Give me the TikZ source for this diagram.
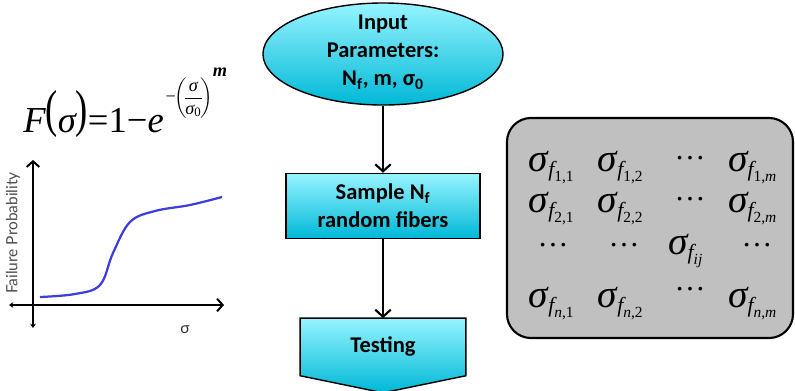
\documentclass[tikz,border=0pt]{standalone}
\usepackage{amsmath}
\usepackage{graphicx}
\usepackage{fontspec}
\setmainfont{Liberation Serif}
\newfontfamily\flowfont{Carlito}
\newfontfamily\axisfont{Lato}
\usetikzlibrary{positioning, arrows.meta, shapes.geometric, backgrounds}

\definecolor{cyantop}{RGB}{150,244,255}
\definecolor{cyanmid}{RGB}{30,216,238}
\definecolor{cyanbot}{RGB}{0,184,214}
\definecolor{boxgray}{RGB}{192,192,192}
\definecolor{curveblue}{RGB}{62,62,222}

\newcommand{\sg}{\textit{σ}}
\newcommand{\msg}{\mbox{\fontsize{28}{30}\selectfont\itshape σ}}
\newcommand{\sgf}[1]{\msg_{\textit{f}_{#1}}}
\newcommand{\mdots}{\mbox{\raisebox{5pt}[7pt][0pt]{…}}}
\newcommand{\tallp}[1]{\raisebox{4pt}{\scalebox{1}[1.42]{#1}}}

\tikzstyle{flowshade} = [draw=black, line width=1pt, top color=cyantop, middle color=cyanmid, bottom color=cyanbot]
\tikzstyle{flowtext} = [font=\flowfont\bfseries\fontsize{16}{20}\selectfont, align=center, text=black]
\tikzstyle{startnode} = [flowshade, flowtext, ellipse, minimum width=6cm, minimum height=2.55cm, inner sep=0pt]
\tikzstyle{stepbox} = [flowshade, flowtext, rectangle, minimum width=4.85cm, minimum height=1.625cm]
\tikzstyle{outbody} = [flowtext, rectangle, minimum width=4.125cm, minimum height=1.425cm]
\tikzstyle{flowarrow} = [line width=1.5pt, -{Straight Barb[length=5pt, width=11pt, line width=1.5pt]}]
\tikzstyle{axis} = [line width=1.4pt, {Stealth[length=3pt, width=4pt]}-{Straight Barb[length=4pt, width=9pt, line width=1.4pt]}]
\tikzstyle{stressbox} = [draw=black, line width=1.5pt, fill=boxgray, rounded corners=0.6cm, minimum width=7.15cm, minimum height=5.5cm]
\tikzstyle{entry} = [anchor=base, inner sep=0pt, font=\fontsize{22}{26}\selectfont]

\begin{document}
\begin{tikzpicture}[x=0.025cm, y=-0.025cm]
	\useasboundingbox (0,0) rectangle (795,390);

	% flow chart
	\node[startnode] (input) at (383,54)
		{\raisebox{-3pt}[0pt][0pt]{\begin{tabular}{@{}c@{}}Input\\Parameters:\\N\textsubscript{f}, m, σ\textsubscript{0}\end{tabular}}};
	\node[stepbox, below=1.675cm of input] (sample) {Sample N\textsubscript{f}\\random fibers};
	\node[outbody, below=1.975cm of sample] (testing) {Testing};
	\begin{scope}[on background layer]
		\draw[flowshade] (testing.north west) -- (testing.north east) -- (testing.south east)
			-- ([yshift=-0.425cm]testing.south) -- (testing.south west) -- cycle;
	\end{scope}
	\draw[flowarrow] (input) -- (sample);
	\draw[flowarrow] (sample) -- (testing);

	% weibull law
	\node[anchor=base west, inner sep=0pt, font=\fontsize{26}{30}\selectfont] (weibull) at (23,132)
		{$\mathit{F}\tallp{(}\sg\tallp{)}\textup{=}\textup{1}\textup{−}\mathit{e}\mkern1mu
		\raisebox{21pt}{\fontsize{13}{15}\selectfont$\textup{−}\mkern-5mu\left(\mkern-3mu\dfrac{\sg}{\sg_{\textup{0}}}\mkern-3mu\right)^{\raisebox{4pt}{\textbf{\textit{m}}}}$}$};

	% failure probability curve
	\coordinate (ybot) at (33,328);
	\coordinate (ytop) at (33,160);
	\coordinate (xleft) at (9,305);
	\coordinate (xright) at (224,305);
	\draw[axis] (ybot) -- (ytop);
	\draw[axis] (xleft) -- (xright);
	\draw[curveblue, line width=1.6pt] plot[smooth, tension=0.6] coordinates
		{(40,297) (75,294) (100,285) (113,253) (130,222) (155,211) (190,205) (222,197)};
	\node[rotate=90, font=\axisfont\fontsize{11}{13}\selectfont, text=black!70] (yname) at (13,233) {Failure Probability};
	\node[font=\axisfont\fontsize{11}{13}\selectfont, text=black!80] (xname) at (185,330) {σ};

	% stress samples
	\node[stressbox] (stresses) at (650,228) {};
	\foreach \x/\y/\e in {
		552/171/{\sgf{\textup{1,1}}}, 621/171/{\sgf{\textup{1,2}}}, 690/167/{\mdots}, 753/171/{\sgf{\textup{1,}\textit{m}}},
		552/212/{\sgf{\textup{2,1}}}, 621/212/{\sgf{\textup{2,2}}}, 690/208/{\mdots}, 753/212/{\sgf{\textup{2,}\textit{m}}},
		553/254/{\mdots}, 624/254/{\mdots}, 686/254/{\sgf{\textit{ij}}}, 757/254/{\mdots},
		552/307/{\sgf{\textit{n}\textup{,1}}}, 621/307/{\sgf{\textit{n}\textup{,2}}}, 690/298/{\mdots}, 753/307/{\sgf{\textit{n}\textup{,}\textit{m}}}}
		\node[entry] at (\x,\y) {$\e$};

\end{tikzpicture}
\end{document}
